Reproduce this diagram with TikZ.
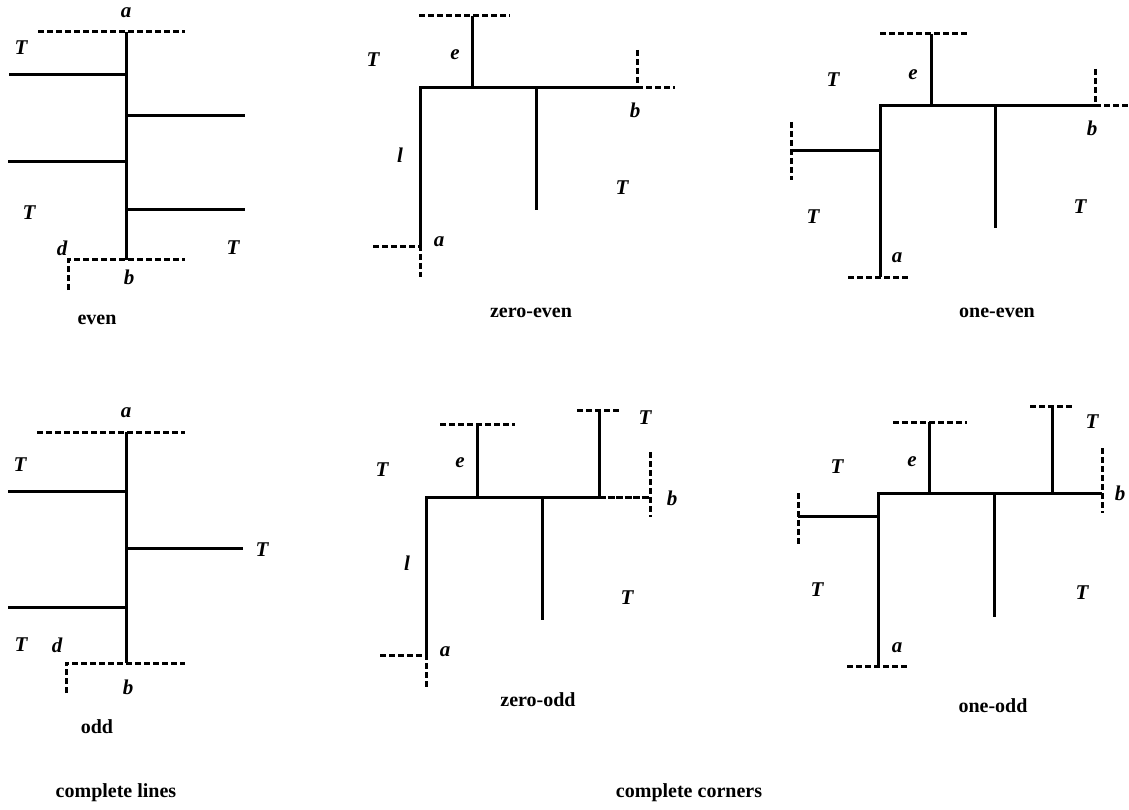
\documentclass[tikz,border=0pt]{standalone}
\usepackage{fontspec}
\setmainfont{Liberation Serif}
\begin{document}
\begin{tikzpicture}[x=1pt,y=-1pt,
  solidline/.style={line width=3pt},
  dashline/.style={line width=3pt,dash pattern=on 6pt off 3pt},
  fineline/.style={line width=3pt,dash pattern=on 7pt off 1.5pt},
  lab/.style={inner sep=0pt,font=\fontsize{21}{21}\selectfont\bfseries\itshape},
  captxt/.style={inner sep=0pt,font=\fontsize{20}{20}\selectfont\bfseries}]
\useasboundingbox (0,0) rectangle (1129,810);

% ---------- panel 1: even ----------
\coordinate (e1t) at (126,32); \coordinate (e1b) at (126,260);
\coordinate (e1tl) at (38,32); \coordinate (e1tr) at (185,32);
\coordinate (e1bl) at (68,260); \coordinate (e1br) at (185,260);
\coordinate (e1bd) at (68,290);
\coordinate (e1h1) at (9,75); \coordinate (e1h1e) at (126,75);
\coordinate (e1h2) at (126,116); \coordinate (e1h2e) at (245,116);
\coordinate (e1h3) at (8,162); \coordinate (e1h3e) at (126,162);
\coordinate (e1h4) at (126,210); \coordinate (e1h4e) at (245,210);
\draw[dashline] (e1tl) -- (e1tr);
\draw[solidline] (e1t) -- (e1b);
\draw[solidline] (e1h1) -- (e1h1e);
\draw[solidline] (e1h2) -- (e1h2e);
\draw[solidline] (e1h3) -- (e1h3e);
\draw[solidline] (e1h4) -- (e1h4e);
\draw[dashline] (e1bd) -- (e1bl) -- (e1br);
\node[lab] (e1la) at (126,13) {a};
\node[lab] (e1lT1) at (21,48) {T};
\node[lab] (e1lT2) at (29,213) {T};
\node[lab] (e1ld) at (62,248) {d};
\node[lab] (e1lT3) at (233,248) {T};
\node[lab] (e1lb) at (129,277) {b};
\node[captxt] (e1cap) at (97,320) {even};

% ---------- panel 4: odd ----------
\coordinate (o1t) at (126,432); \coordinate (o1b) at (126,663);
\coordinate (o1tl) at (37,432); \coordinate (o1tr) at (185,432);
\coordinate (o1bl) at (66,663); \coordinate (o1br) at (185,663);
\coordinate (o1bd) at (66,693);
\coordinate (o1h1) at (8,491); \coordinate (o1h1e) at (126,491);
\coordinate (o1h2) at (126,548); \coordinate (o1h2e) at (243,548);
\coordinate (o1h3) at (8,607); \coordinate (o1h3e) at (126,607);
\draw[dashline] (o1tl) -- (o1tr);
\draw[solidline] (o1t) -- (o1b);
\draw[solidline] (o1h1) -- (o1h1e);
\draw[solidline] (o1h2) -- (o1h2e);
\draw[solidline] (o1h3) -- (o1h3e);
\draw[dashline] (o1bd) -- (o1bl) -- (o1br);
\node[lab] (o1la) at (126,413) {a};
\node[lab] (o1lT1) at (20,465) {T};
\node[lab] (o1lT2) at (262,550) {T};
\node[lab] (o1lT3) at (21,645) {T};
\node[lab] (o1ld) at (57,645) {d};
\node[lab] (o1lb) at (128,687) {b};
\node[captxt] (o1cap) at (97,727) {odd};

% ---------- panel 2: zero-even ----------
\coordinate (ze-c) at (420,88);
\coordinate (ze-e) at (472,88); \coordinate (ze-et) at (472,16);
\coordinate (ze-etl) at (419,16); \coordinate (ze-etr) at (510,16);
\coordinate (ze-m) at (536,88); \coordinate (ze-mb) at (536,210);
\coordinate (ze-r) at (637,88); \coordinate (ze-rt) at (637,50);
\coordinate (ze-re) at (675,88);
\coordinate (ze-a) at (420,247); \coordinate (ze-ad) at (420,277);
\coordinate (ze-al) at (373,247);
\draw[dashline] (ze-etl) -- (ze-etr);
\draw[solidline] (ze-et) -- (ze-e);
\draw[solidline] (ze-a) -- (ze-c) -- (ze-r);
\draw[dashline] (ze-r) -- (ze-re);
\draw[dashline] (ze-rt) -- (ze-r);
\draw[solidline] (ze-m) -- (ze-mb);
\draw[dashline] (ze-al) -- (ze-a) -- (ze-ad);
\node[lab] (ze-lT1) at (373,60) {T};
\node[lab] (ze-le) at (455,55) {e};
\node[lab] (ze-lb) at (635,110) {b};
\node[lab] (ze-ll) at (400,155) {l};
\node[lab] (ze-lT2) at (622,188) {T};
\node[lab] (ze-la) at (439,242) {a};
\node[captxt] (ze-cap) at (531,313) {zero-even};

% ---------- panel 3: one-even ----------
\coordinate (oe-c) at (880,106);
\coordinate (oe-e) at (931,106); \coordinate (oe-et) at (931,34);
\coordinate (oe-etl) at (880,34); \coordinate (oe-etr) at (967,34);
\coordinate (oe-m) at (995,106); \coordinate (oe-mb) at (995,228);
\coordinate (oe-r) at (1095,106); \coordinate (oe-rt) at (1095,69);
\coordinate (oe-re) at (1128,106);
\coordinate (oe-a) at (880,277);
\coordinate (oe-al) at (848,277); \coordinate (oe-ar) at (910,277);
\coordinate (oe-s) at (880,151); \coordinate (oe-se) at (791,151);
\coordinate (oe-st) at (791,122); \coordinate (oe-sb) at (791,180);
\draw[dashline] (oe-etl) -- (oe-etr);
\draw[solidline] (oe-et) -- (oe-e);
\draw[solidline] (oe-a) -- (oe-c) -- (oe-r);
\draw[dashline] (oe-r) -- (oe-re);
\draw[dashline] (oe-rt) -- (oe-r);
\draw[solidline] (oe-m) -- (oe-mb);
\draw[dashline] (oe-al) -- (oe-ar);
\draw[solidline] (oe-s) -- (oe-se);
\draw[dashline] (oe-st) -- (oe-sb);
\node[lab] (oe-lT1) at (833,80) {T};
\node[lab] (oe-le) at (913,75) {e};
\node[lab] (oe-lb) at (1092,128) {b};
\node[lab] (oe-lT2) at (813,217) {T};
\node[lab] (oe-lT3) at (1080,207) {T};
\node[lab] (oe-la) at (897,258) {a};
\node[captxt] (oe-cap) at (997,313) {one-even};

% ---------- panel 5: zero-odd ----------
\coordinate (zo-c) at (426,497);
\coordinate (zo-e) at (477,497); \coordinate (zo-et) at (477,424);
\coordinate (zo-etl) at (440,424); \coordinate (zo-etr) at (515,424);
\coordinate (zo-m) at (542,497); \coordinate (zo-mb) at (542,620);
\coordinate (zo-t) at (599,497); \coordinate (zo-tt) at (599,410);
\coordinate (zo-ttl) at (577,410); \coordinate (zo-ttr) at (620,410);
\coordinate (zo-r) at (650,497); \coordinate (zo-rt) at (650,452);
\coordinate (zo-rb) at (650,517);
\coordinate (zo-a) at (426,655); \coordinate (zo-ad) at (426,687);
\coordinate (zo-al) at (380,655);
\draw[dashline] (zo-etl) -- (zo-etr);
\draw[solidline] (zo-et) -- (zo-e);
\draw[dashline] (zo-ttl) -- (zo-ttr);
\draw[solidline] (zo-tt) -- (zo-t);
\draw[solidline] (zo-a) -- (zo-c) -- (zo-t);
\draw[fineline] (zo-t) -- (zo-r);
\draw[dashline] (zo-rt) -- (zo-rb);
\draw[solidline] (zo-m) -- (zo-mb);
\draw[dashline] (zo-al) -- (zo-a) -- (zo-ad);
\node[lab] (zo-lT1) at (382,470) {T};
\node[lab] (zo-le) at (460,463) {e};
\node[lab] (zo-lT2) at (645,418) {T};
\node[lab] (zo-lb) at (672,498) {b};
\node[lab] (zo-ll) at (407,563) {l};
\node[lab] (zo-lT3) at (627,598) {T};
\node[lab] (zo-la) at (445,652) {a};
\node[captxt] (zo-cap) at (538,700) {zero-odd};

% ---------- panel 6: one-odd ----------
\coordinate (oo-c) at (878,493);
\coordinate (oo-e) at (929,493); \coordinate (oo-et) at (929,422);
\coordinate (oo-etl) at (893,422); \coordinate (oo-etr) at (967,422);
\coordinate (oo-m) at (994,493); \coordinate (oo-mb) at (994,617);
\coordinate (oo-t) at (1052,493); \coordinate (oo-tt) at (1052,406);
\coordinate (oo-ttl) at (1030,406); \coordinate (oo-ttr) at (1072,406);
\coordinate (oo-r) at (1102,493); \coordinate (oo-rt) at (1102,448);
\coordinate (oo-rb) at (1102,513);
\coordinate (oo-a) at (878,666);
\coordinate (oo-al) at (847,666); \coordinate (oo-ar) at (908,666);
\coordinate (oo-s) at (878,516); \coordinate (oo-se) at (798,516);
\coordinate (oo-st) at (798,493); \coordinate (oo-sb) at (798,545);
\draw[dashline] (oo-etl) -- (oo-etr);
\draw[solidline] (oo-et) -- (oo-e);
\draw[dashline] (oo-ttl) -- (oo-ttr);
\draw[solidline] (oo-tt) -- (oo-t);
\draw[solidline] (oo-a) -- (oo-c) -- (oo-r);
\draw[dashline] (oo-rt) -- (oo-rb);
\draw[solidline] (oo-m) -- (oo-mb);
\draw[dashline] (oo-al) -- (oo-ar);
\draw[solidline] (oo-s) -- (oo-se);
\draw[dashline] (oo-st) -- (oo-sb);
\node[lab] (oo-lT1) at (837,467) {T};
\node[lab] (oo-le) at (912,462) {e};
\node[lab] (oo-lT2) at (1092,422) {T};
\node[lab] (oo-lb) at (1120,493) {b};
\node[lab] (oo-lT3) at (817,590) {T};
\node[lab] (oo-lT4) at (1082,593) {T};
\node[lab] (oo-la) at (897,648) {a};
\node[captxt] (oo-cap) at (993,706) {one-odd};

% ---------- group captions ----------
\node[captxt] (g1) at (116,793) {complete lines};
\node[captxt] (g2) at (689,793) {complete corners};
\end{tikzpicture}
\end{document}
